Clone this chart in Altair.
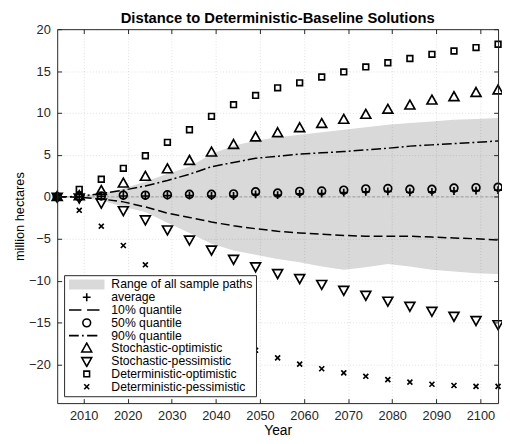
import altair as alt
import pandas as pd

# ---------------- data ----------------
years = [2004, 2009, 2014, 2019, 2024, 2029, 2034, 2039, 2044, 2049, 2054,
         2059, 2064, 2069, 2074, 2079, 2084, 2089, 2094, 2099, 2104]

range_low = [0, -0.1, -0.4, -1.2, -1.8, -3.1, -4.3, -5.6, -6.4, -6.9, -7.4,
             -7.8, -8.3, -8.7, -8.4, -8.0, -8.3, -8.7, -8.9, -9.1, -9.2]
range_high = [0, 0.1, 0.4, 1.0, 1.8, 2.75, 3.6, 5.1, 6.1, 6.7, 7.1,
              7.4, 7.7, 8.0, 8.3, 8.6, 8.8, 9.0, 9.2, 9.3, 9.4]

q10 = [0, -0.05, -0.25, -0.6, -1.2, -1.95, -2.45, -3.0, -3.45, -3.8, -4.1,
       -4.3, -4.45, -4.6, -4.7, -4.7, -4.7, -4.8, -4.9, -5.0, -5.15]
q90 = [0, 0.05, 0.4, 0.8, 1.3, 1.95, 2.7, 3.6, 4.1, 4.6, 4.85,
       5.1, 5.25, 5.4, 5.6, 5.8, 6.05, 6.2, 6.35, 6.5, 6.67]
q50 = [0, 0.02, 0.1, 0.2, 0.2, 0.25, 0.3, 0.3, 0.35, 0.6, 0.45,
       0.65, 0.7, 0.8, 0.95, 1.0, 0.9, 0.9, 1.05, 1.1, 1.15]
average = [0, 0, 0.05, 0.1, 0.1, 0.15, 0.15, 0.1, 0.1, 0.3, 0.2,
           0.35, 0.4, 0.5, 0.6, 0.65, 0.55, 0.6, 0.7, 0.75, 0.8]

stoch_opt = [0, 0.1, 0.7, 1.6, 2.4, 3.3, 4.3, 5.3, 6.2, 7.1, 7.6,
             8.2, 8.7, 9.2, 9.8, 10.4, 10.9, 11.5, 11.9, 12.4, 12.7]
stoch_pess = [0, -0.1, -0.7, -1.6, -2.7, -3.9, -5.1, -6.3, -7.4, -8.3, -9.1,
              -9.7, -10.4, -11.1, -11.7, -12.4, -13.0, -13.6, -14.2, -14.7, -15.2]
det_opt = [0, 0.9, 2.1, 3.4, 4.9, 6.5, 8.0, 9.6, 11.0, 12.1, 13.0,
           13.6, 14.3, 14.9, 15.5, 16.0, 16.5, 17.0, 17.4, 17.8, 18.2]
det_pess = [0, -1.6, -3.5, -5.8, -8.1, -10.4, -12.5, -14.5, -16.5, -18.3, -19.2,
            -19.95, -20.5, -21.0, -21.4, -21.8, -22.1, -22.35, -22.5, -22.6, -22.6]

x_ticks = [2010, 2020, 2030, 2040, 2050, 2060, 2070, 2080, 2090, 2100]
y_ticks = [-20, -15, -10, -5, 0, 5, 10, 15, 20]
x_domain = [2004, 2104]
y_domain = [-24.6, 20]
zero_level = [0]

legend_names = ["Range of all sample paths", "average", "10% quantile",
                "50% quantile", "90% quantile", "Stochastic-optimistic",
                "Stochastic-pessimistic", "Deterministic-optimistic",
                "Deterministic-pessimistic"]

# ---------------- symbol shapes (unit box [-1,1]) ----------------
P_RECT = "M-1,-0.28H1V0.28H-1Z"
P_PLUS = "M-0.22,0H0.22M0,-0.22V0.22"
P_DASH = "M-1,0H-0.3M0.02,0H0.72"
P_CIRCLE = "M-0.22,0A0.22,0.22,0,1,1,0.22,0A0.22,0.22,0,1,1,-0.22,0Z"
P_DASHDOT = "M-1,0H-0.45M-0.27,0H-0.17M0.02,0H0.6"
P_TRI_UP = "M0,-0.3L0.28,0.2L-0.28,0.2Z"
P_TRI_DOWN = "M0,0.3L0.28,-0.2L-0.28,-0.2Z"
P_SQUARE = "M-0.16,-0.16H0.16V0.16H-0.16Z"
P_X = "M-0.14,-0.14L0.14,0.14M-0.14,0.14L0.14,-0.14"

shape_range = [P_RECT, P_PLUS, P_DASH, P_CIRCLE, P_DASHDOT,
               P_TRI_UP, P_TRI_DOWN, P_SQUARE, P_X]
fill_range = ["#d9d9d9"] + ["transparent"] * 8
stroke_range = ["transparent"] + ["black"] * 8

# ---------------- tables ----------------
df_wide = pd.DataFrame({"year": years, "low": range_low, "high": range_high,
                        "q10": q10, "q90": q90})

point_series = [("average", average), ("50% quantile", q50),
                ("Stochastic-optimistic", stoch_opt),
                ("Stochastic-pessimistic", stoch_pess),
                ("Deterministic-optimistic", det_opt),
                ("Deterministic-pessimistic", det_pess)]
rows = []
for name, vals in point_series:
    for yr, v in zip(years, vals):
        rows.append({"year": yr, "value": v, "series": name})
df_pts = pd.DataFrame(rows)
df_zero = pd.DataFrame({"z": zero_level})

FONT = "Liberation Sans"
AX = "#262626"

x_scale = alt.Scale(domain=x_domain, nice=False, zero=False)
y_scale = alt.Scale(domain=y_domain, nice=False, zero=False)

x_main = alt.Axis(orient="bottom", values=x_ticks, format="d", ticks=False,
                  domain=True, domainColor=AX, domainWidth=1,
                  grid=True, gridColor=AX, gridOpacity=0.15, gridDash=[1, 2],
                  gridWidth=1, labelFont=FONT, labelFontSize=13, labelColor=AX,
                  labelPadding=7, labelOverlap=False,
                  title="Year", titleFont=FONT, titleFontSize=14,
                  titleFontWeight="normal", titleColor="black", titlePadding=1,
                  zindex=1)
y_main = alt.Axis(orient="left", values=y_ticks, format="d", ticks=False,
                  domain=True, domainColor=AX, domainWidth=1,
                  grid=True, gridColor=AX, gridOpacity=0.15, gridDash=[1, 2],
                  gridWidth=1, labelFont=FONT, labelFontSize=13, labelColor=AX,
                  labelPadding=7, labelOverlap=False,
                  title="million hectares", titleFont=FONT, titleFontSize=13,
                  titleFontWeight="normal", titleColor="black", titlePadding=2,
                  zindex=1)


def tick_axis(orient, offset, values, domain=False):
    return alt.Axis(orient=orient, offset=offset, values=values, labels=False,
                    domain=domain, domainColor=AX, domainWidth=1, grid=False,
                    ticks=True, tickSize=4.5, tickColor=AX, tickWidth=1,
                    title=None, zindex=1)


leg = alt.Legend(orient="bottom-left", offset=7, direction="vertical",
                 padding=3, fillColor="white", strokeColor=AX, cornerRadius=0,
                 symbolSize=1296, symbolStrokeWidth=1.6, clipHeight=12.8,
                 rowPadding=0, labelFont=FONT, labelFontSize=12.4,
                 labelColor="black", labelOffset=6, labelLimit=400,
                 symbolOffset=1, zindex=2)

area = alt.Chart(df_wide).mark_area(color="#d9d9d9", opacity=1).encode(
    x=alt.X("year:Q", scale=x_scale, axis=x_main),
    y=alt.Y("low:Q", scale=y_scale, axis=y_main),
    y2="high:Q",
)

zero = alt.Chart(df_zero).mark_rule(color="#a0a0a0", strokeDash=[3, 2],
                                    strokeWidth=1).encode(
    y=alt.Y("z:Q", scale=y_scale, axis=None),
)

line10 = alt.Chart(df_wide).mark_line(color="black", strokeDash=[9, 4],
                                      strokeWidth=1.5).encode(
    x=alt.X("year:Q", scale=x_scale, axis=tick_axis("top", -380, x_ticks)),
    y=alt.Y("q10:Q", scale=y_scale, axis=tick_axis("right", -448, y_ticks)),
)

line90 = alt.Chart(df_wide).mark_line(color="black", strokeDash=[10, 3, 2, 3],
                                      strokeWidth=1.5).encode(
    x=alt.X("year:Q", scale=x_scale,
            axis=tick_axis("bottom", -380, x_ticks, domain=True)),
    y=alt.Y("q90:Q", scale=y_scale,
            axis=tick_axis("left", -448, y_ticks, domain=True)),
)

points = alt.Chart(df_pts).mark_point(size=1296, strokeWidth=1.7,
                                      opacity=1).encode(
    x=alt.X("year:Q", scale=x_scale, axis=None),
    y=alt.Y("value:Q", scale=y_scale, axis=None),
    shape=alt.Shape("series:N", title=None, legend=leg,
                    scale=alt.Scale(domain=legend_names, range=shape_range)),
    fill=alt.Fill("series:N", title=None, legend=leg,
                  scale=alt.Scale(domain=legend_names, range=fill_range)),
    stroke=alt.Stroke("series:N", title=None, legend=leg,
                      scale=alt.Scale(domain=legend_names, range=stroke_range)),
)

chart = alt.layer(area, zero, line10, line90, points).resolve_axis(
    x="independent", y="independent"
).properties(
    width=448,
    height=380,
    padding={"left": 50, "top": 18, "right": 4, "bottom": 36},
    autosize=alt.AutoSizeParams(type="none"),
    title=alt.TitleParams("Distance to Deterministic-Baseline Solutions",
                          font=FONT, fontSize=15, fontWeight="bold",
                          color="black", anchor="middle", offset=3, dy=6),
).configure_view(stroke=None)

chart.save("out.html", embed_options={"renderer": "svg", "actions": False})
